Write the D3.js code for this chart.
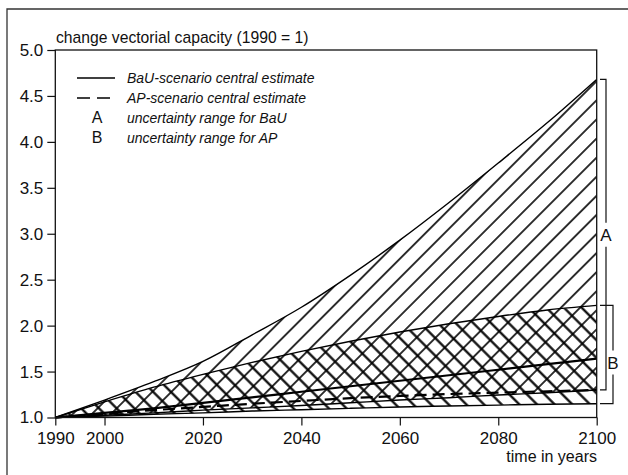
<!DOCTYPE html>
<html>
<head>
<meta charset="utf-8">
<script src="https://cdn.jsdelivr.net/npm/d3@7"></script>
<style>
  body { margin: 0; background: #fff; }
  svg { display: block; }
  text { font-family: "Liberation Sans", Arial, sans-serif; fill: #111; }
</style>
</head>
<body>
<svg id="chart" width="628" height="475"></svg>
<script>
// Relative change in vectorial capacity, 1990 = 1
const years      = [1990, 2000, 2010, 2020, 2030, 2040, 2050, 2060, 2070, 2080, 2090, 2100];
const bauHigh    = [1, 1.19, 1.39, 1.61, 1.90, 2.20, 2.55, 2.93, 3.34, 3.77, 4.21, 4.68];
const bauLow     = [1, 1.025, 1.05, 1.08, 1.105, 1.13, 1.16, 1.19, 1.215, 1.245, 1.27, 1.30];
const bauCentral = [1, 1.05, 1.10, 1.16, 1.22, 1.28, 1.34, 1.40, 1.46, 1.52, 1.58, 1.64];
const apHigh     = [1, 1.17, 1.33, 1.47, 1.60, 1.72, 1.83, 1.93, 2.02, 2.10, 2.17, 2.22];
const apLow      = [1, 1.015, 1.035, 1.05, 1.07, 1.085, 1.10, 1.115, 1.125, 1.135, 1.145, 1.15];
const apCentral  = [1, 1.04, 1.08, 1.115, 1.15, 1.18, 1.21, 1.235, 1.255, 1.27, 1.285, 1.30];

const xTicks = [1990, 2000, 2020, 2040, 2060, 2080, 2100];
const yTicks = [1.0, 1.5, 2.0, 2.5, 3.0, 3.5, 4.0, 4.5, 5.0];

const titleText = "change vectorial capacity (1990 = 1)";
const xAxisText = "time in years";
const legendLines = ["BaU-scenario central estimate", "AP-scenario central estimate"];
const legendRanges = [["A", "uncertainty range for BaU"], ["B", "uncertainty range for AP"]];

const svg = d3.select("#chart");
const plotLeft = 55.3, plotRight = 596.7, plotTop = 50, plotBottom = 417.5;

const x = d3.scaleLinear().domain([1990, 2100]).range([plotLeft, plotRight]);
const y = d3.scaleLinear().domain([1, 5]).range([plotBottom, plotTop]);

// outer frame (left and top edges)
svg.append("path")
  .attr("d", "M7,475 V9 H628")
  .attr("fill", "none").attr("stroke", "#333").attr("stroke-width", 1.3);

// hatch patterns: "/" for BaU range, "\" for AP range
const defs = svg.append("defs");
function hatch(id, angle, spacing, width) {
  const p = defs.append("pattern")
    .attr("id", id)
    .attr("patternUnits", "userSpaceOnUse")
    .attr("width", spacing).attr("height", spacing)
    .attr("patternTransform", `rotate(${angle})`);
  p.append("line")
    .attr("x1", spacing / 2).attr("x2", spacing / 2)
    .attr("y1", -1).attr("y2", spacing + 1)
    .attr("stroke", "#000").attr("stroke-width", width);
}
hatch("hatchA", 45, 13.5, 1.6);
hatch("hatchB", -45, 12.5, 2.2);

const rows = years.map((yr, i) => ({
  yr, bauHigh: bauHigh[i], bauLow: bauLow[i], bauCentral: bauCentral[i],
  apHigh: apHigh[i], apLow: apLow[i], apCentral: apCentral[i]
}));

const curve = d3.curveMonotoneX;
const area = (lo, hi) => d3.area().curve(curve)
  .x(d => x(d.yr)).y0(d => y(d[lo])).y1(d => y(d[hi]));
const line = key => d3.line().curve(curve).x(d => x(d.yr)).y(d => y(d[key]));

svg.append("path").datum(rows).attr("d", area("bauLow", "bauHigh"))
  .attr("fill", "url(#hatchA)");
svg.append("path").datum(rows).attr("d", area("apLow", "apHigh"))
  .attr("fill", "url(#hatchB)");

// range boundaries
["bauHigh", "bauLow", "apHigh", "apLow"].forEach(k => {
  svg.append("path").datum(rows).attr("d", line(k))
    .attr("fill", "none").attr("stroke", "#000").attr("stroke-width", 1.4);
});

// central estimates
svg.append("path").datum(rows).attr("d", line("bauCentral"))
  .attr("fill", "none").attr("stroke", "#000").attr("stroke-width", 2.2);
svg.append("path").datum(rows).attr("d", line("apCentral"))
  .attr("fill", "none").attr("stroke", "#000").attr("stroke-width", 2.2)
  .attr("stroke-dasharray", "12,6");

// plot frame
svg.append("rect")
  .attr("x", plotLeft).attr("y", y(5)).attr("width", plotRight - plotLeft).attr("height", plotBottom - y(5))
  .attr("fill", "none").attr("stroke", "#111").attr("stroke-width", 1.3);

// axes
const yAxis = svg.append("g").attr("transform", `translate(${plotLeft},0)`)
  .call(d3.axisLeft(y).tickValues(yTicks).tickFormat(d3.format(".1f")).tickSize(8).tickPadding(4));
const xAxis = svg.append("g").attr("transform", `translate(0,${plotBottom})`)
  .call(d3.axisBottom(x).tickValues(xTicks).tickFormat(d3.format("d")).tickSize(8).tickPadding(6));
[yAxis, xAxis].forEach(g => {
  g.select(".domain").remove();
  g.selectAll("line").attr("stroke", "#111").attr("stroke-width", 1.2);
  g.selectAll("text").attr("font-family", "Liberation Sans Narrow, Liberation Sans, Arial, sans-serif")
    .attr("font-size", 17).attr("fill", "#111");
});

// titles
svg.append("text").attr("x", 56).attr("y", 43).attr("font-size", 15.7).text(titleText);
svg.append("text").attr("x", 597).attr("y", 462).attr("font-size", 16)
  .attr("text-anchor", "end").text(xAxisText);

// legend
const legY = [78, 98];
legendLines.forEach((t, i) => {
  svg.append("line").attr("x1", 77).attr("x2", 115).attr("y1", legY[i]).attr("y2", legY[i])
    .attr("stroke", "#000").attr("stroke-width", 1.7)
    .attr("stroke-dasharray", i === 1 ? "13,7" : null);
  svg.append("text").attr("x", 127).attr("y", legY[i] + 5).attr("font-size", 14)
    .attr("font-style", "italic").text(t);
});
legendRanges.forEach(([k, t], i) => {
  const by = 123 + i * 20;
  svg.append("text").attr("x", 97).attr("y", by).attr("font-size", 16)
    .attr("font-family", "Liberation Sans Narrow, Liberation Sans, Arial, sans-serif")
    .attr("text-anchor", "middle").text(k);
  svg.append("text").attr("x", 127).attr("y", by).attr("font-size", 14)
    .attr("font-style", "italic").text(t);
});

// range brackets at 2100
function bracket(label, hi, lo, bx, tickFrom, shift) {
  const yt = y(hi), yb = y(lo), ym = (yt + yb) / 2 + shift, gap = 12;
  const g = svg.append("g").attr("fill", "none").attr("stroke", "#111").attr("stroke-width", 1.2);
  g.append("path").attr("d", `M${tickFrom},${yt} H${bx} V${ym - gap}`);
  g.append("path").attr("d", `M${bx},${ym + gap} V${yb} H${tickFrom}`);
  svg.append("text").attr("x", bx).attr("y", ym + 6).attr("font-size", 17)
    .attr("font-family", "Liberation Sans Narrow, Liberation Sans, Arial, sans-serif")
    .attr("text-anchor", "middle").text(label);
}
const n = years.length - 1;
bracket("A", bauHigh[n], bauLow[n], 606, 600, 0);
bracket("B", apHigh[n], apLow[n], 613, 600, 8);
</script>
</body>
</html>
